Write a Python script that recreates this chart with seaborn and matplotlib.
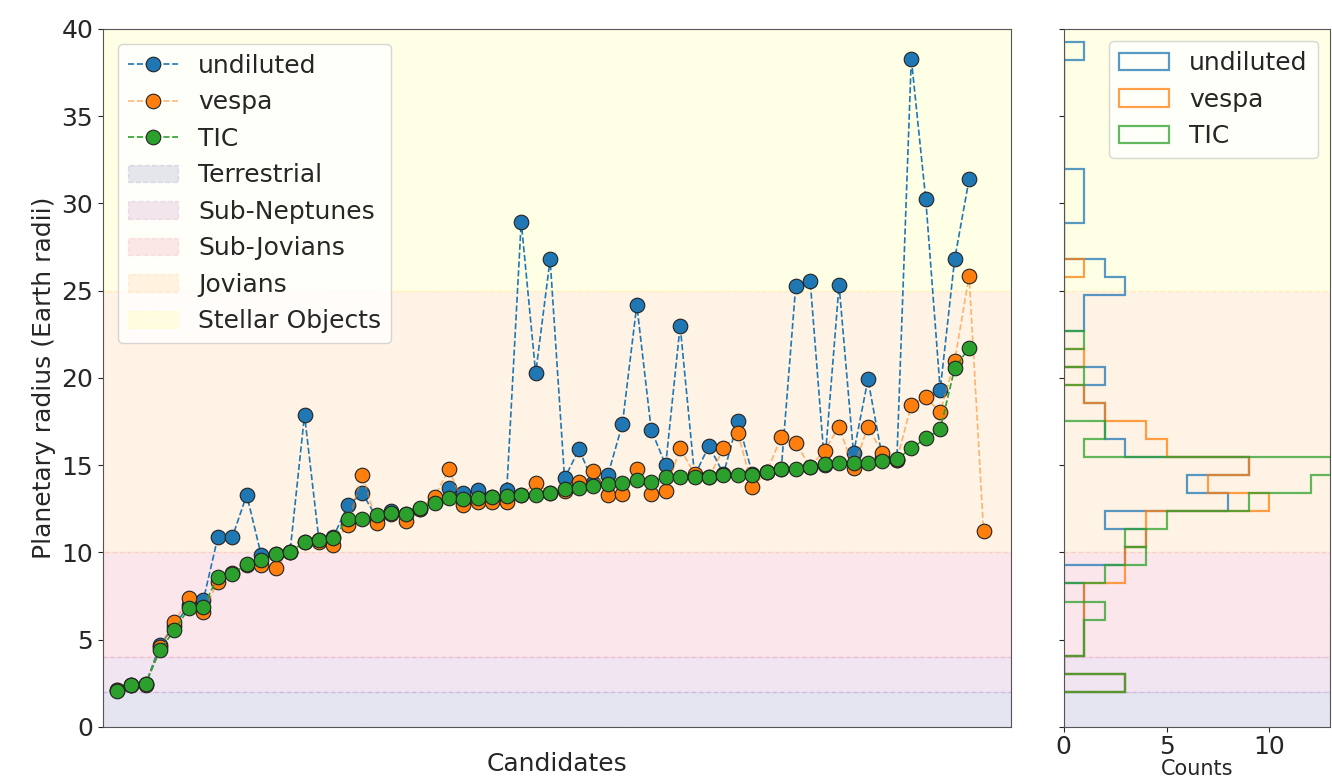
import matplotlib
matplotlib.use("Agg")
import matplotlib.pyplot as plt
import numpy as np
import pandas as pd
import seaborn as sns

# planetary radii (Earth radii) per candidate, sorted by TIC radius
undiluted = [2.1, 2.4, 2.45, 4.7, 5.8, 7.0, 7.28, 10.87, 10.87, 13.3,
             9.86, 9.9, 10.05, 17.88, 10.7, 10.9, 12.7, 13.39, 12.0, 12.4,
             12.2, 12.5, 12.9, 13.68, 13.39, 13.58, 13.2, 13.58, 28.96, 20.27,
             26.8, 14.25, 15.91, 14.0, 14.44, 17.35, 24.18, 17.02, 15.01, 23.0,
             14.4, 16.12, 14.5, 17.55, 14.5, 14.6, 14.8, 25.27, 25.58, 15.0,
             25.33, 15.68, 19.92, 15.4, 15.3, 38.3, 30.24, 19.31, 26.8, 31.39,
             np.nan]
vespa = [2.1, 2.4, 2.4, 4.6, 6.03, 7.37, 6.6, 8.33, 8.8, 9.3,
         9.28, 9.09, 10.05, 10.6, 10.6, 10.43, 11.6, 14.44, 11.7, 12.2,
         11.82, 12.5, 13.2, 14.76, 12.72, 12.9, 12.9, 12.9, 13.3, 13.96,
         13.4, 13.5, 14.06, 14.69, 13.3, 13.35, 14.76, 13.35, 13.54, 15.97,
         14.5, 14.3, 15.97, 16.83, 13.77, 14.6, 16.64, 16.29, 14.9, 15.84,
         17.21, 14.82, 17.21, 15.68, 15.3, 18.45, 18.89, 18.03, 20.97, 25.85,
         11.23]
tic = [2.08, 2.41, 2.46, 4.41, 5.56, 6.8, 6.9, 8.6, 8.77, 9.32,
       9.57, 9.91, 10.05, 10.58, 10.72, 10.85, 11.9, 11.9, 12.15, 12.24,
       12.2, 12.53, 12.82, 13.1, 13.05, 13.1, 13.2, 13.24, 13.3, 13.32,
       13.43, 13.66, 13.68, 13.81, 13.9, 14.0, 14.15, 14.05, 14.31, 14.31,
       14.33, 14.31, 14.44, 14.44, 14.44, 14.63, 14.76, 14.76, 14.88, 15.07,
       15.1, 15.15, 15.15, 15.26, 15.34, 15.97, 16.54, 17.05, 20.55, 21.74,
       np.nan]

# size classes (Earth radii)
class_names = ["Terrestrial", "Sub-Neptunes", "Sub-Jovians", "Jovians", "Stellar Objects"]
class_lo = [0, 2, 4, 10, 25]
class_hi = [2, 4, 10, 25, 40]
class_colors = ["navy", "purple", "crimson", "darkorange", "yellow"]

series_names = ["undiluted", "vespa", "TIC"]
series_colors = ["#1f77b4", "#ff7f0e", "#2ca02c"]

df = pd.DataFrame({"undiluted": undiluted, "vespa": vespa, "TIC": tic})
df["candidate"] = np.arange(len(df))

sns.set_style("ticks")
plt.rcParams["font.family"] = ["DejaVu Sans"]
plt.rcParams["font.size"] = 18

fig = plt.figure(figsize=(13.32, 7.79), dpi=100)
ax = fig.add_axes([0.0773, 0.0668, 0.6817, 0.896])
axh = fig.add_axes([0.7986, 0.0668, 0.2, 0.896])

for name, col in zip(series_names, series_colors):
    # vespa line is drawn fainter than its markers
    line_col = col if name != "vespa" else matplotlib.colors.to_rgba(col, 0.55)
    sns.lineplot(data=df, x="candidate", y=name, ax=ax, color=line_col,
                 linestyle="--", linewidth=1.2, marker="o", markersize=10.5,
                 markerfacecolor=col, markeredgecolor="#222222",
                 markeredgewidth=0.8, label=name)

for a in (ax, axh):
    for nm, lo, hi, c in zip(class_names, class_lo, class_hi, class_colors):
        a.axhspan(lo, hi, color=c, alpha=0.1, linestyle="--",
                  label=nm if a is ax else None)

ax.set_xlim(-0.95, 61.9)
ax.set_ylim(0, 40)
ax.set_yticks(range(0, 41, 5))
ax.set_xticks([])
ax.set_xlabel("Candidates", labelpad=18)
ax.set_ylabel("Planetary radius (Earth radii)")
ax.legend(loc="upper left", fontsize=18, framealpha=0.8,
          handlelength=2.0, borderaxespad=0.6)

hist_bins = np.linspace(2.02, 39.24, 37)
for name, col in zip(series_names, series_colors):
    vals = df[name].dropna().values
    axh.hist(vals, bins=hist_bins, orientation="horizontal", histtype="step",
             color=col, linewidth=1.6, alpha=0.75, label=name)

axh.set_ylim(0, 40)
axh.set_yticks(range(0, 41, 5))
axh.set_yticklabels([])
axh.set_xlim(0, 12.95)
axh.set_xticks([0, 5, 10])
axh.tick_params(axis="x", pad=2)
axh.set_xlabel("Counts", fontsize=15, labelpad=0)
axh.legend(loc="upper right", fontsize=18, framealpha=0.8)

for a in (ax, axh):
    for s in a.spines.values():
        s.set_color("#555555")

fig.savefig("out.png", dpi=100)
